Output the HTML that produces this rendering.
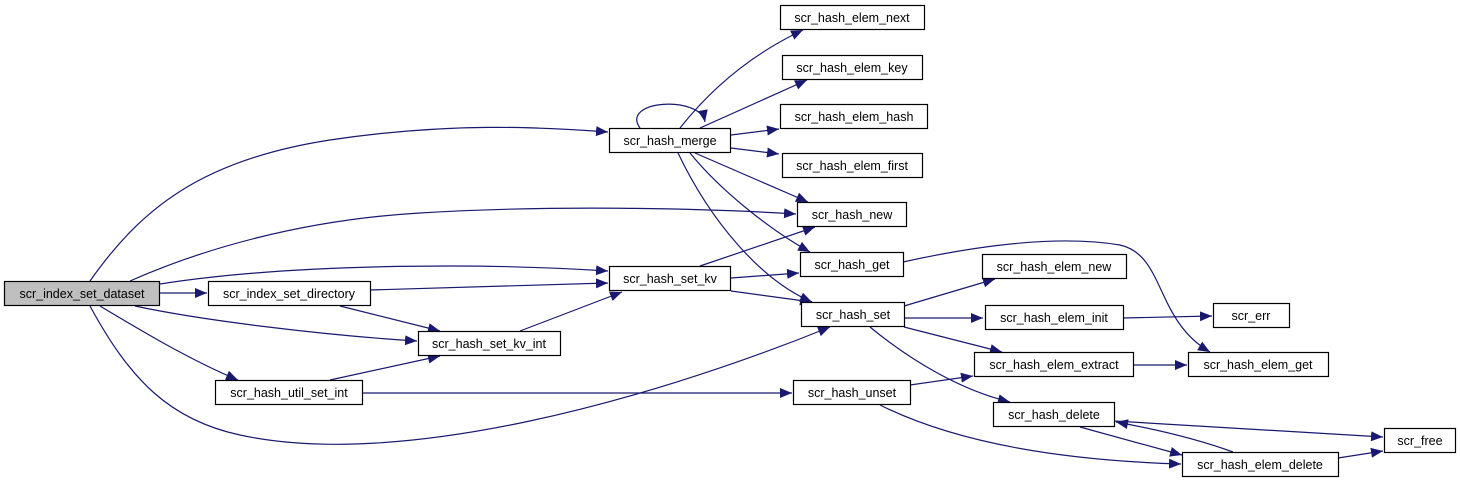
<!DOCTYPE html>
<html><head><meta charset="utf-8"><style>
html,body{margin:0;padding:0;background:#fff;width:1460px;height:484px;overflow:hidden}
text{font-family:"Liberation Sans",sans-serif;font-size:12.5px;fill:#000}
</style></head><body>
<svg width="1460" height="484" xmlns="http://www.w3.org/2000/svg">
<defs><marker id="a" markerUnits="userSpaceOnUse" markerWidth="14" markerHeight="12" refX="12" refY="5" orient="auto"><path d="M0,0 L12,5 L0,10 z" fill="#191970"/></marker></defs>
<g fill="none" stroke="#191970" stroke-width="1.2" marker-end="url(#a)">
<path d="M160,293 L207,293"/>
<path d="M90,281 C140,210 200,160 330,140 C450,122 540,127 608,132"/>
<path d="M130,281 C200,250 300,220 420,213 C550,205 700,208 796,214"/>
<path d="M160,284 C250,270 350,266 450,266 C510,266 560,268 608,271"/>
<path d="M135,306 C200,320 320,335 417,341"/>
<path d="M100,306 C140,330 190,360 238,380"/>
<path d="M90,306 C130,380 170,420 240,435 C400,470 650,400 830,327"/>
<path d="M370,290 L608,283"/>
<path d="M340,306 L440,331"/>
<path d="M330,380 L440,356"/>
<path d="M362,393 L792,393"/>
<path d="M520,331 L622,292"/>
<path d="M700,266 L815,227"/>
<path d="M731,278 L799,273"/>
<path d="M731,291 L812,302"/>
<path d="M640,128 C620,100 700,95 705,122"/>
<path d="M680,128 C710,90 750,55 803,30"/>
<path d="M700,128 L807,80"/>
<path d="M731,135 L779,129"/>
<path d="M731,148 L779,154"/>
<path d="M695,153 L808,202"/>
<path d="M690,153 C720,190 770,230 810,252"/>
<path d="M678,153 C710,220 760,280 812,302"/>
<path d="M903,262 C980,245 1060,235 1120,245 C1165,255 1155,320 1210,352"/>
<path d="M904,306 L995,279"/>
<path d="M904,318 L983,318"/>
<path d="M904,327 L1002,352"/>
<path d="M870,327 C910,360 960,390 1010,402"/>
<path d="M910,385 L973,376"/>
<path d="M880,405 C950,440 1050,460 1181,464"/>
<path d="M1123,318 L1212,316"/>
<path d="M1133,365 L1187,365"/>
<path d="M1114,421 L1383,437"/>
<path d="M1080,427 L1182,455"/>
<path d="M1233,452 C1200,440 1160,430 1116,422"/>
<path d="M1338,458 L1383,451"/>
</g>
<g stroke="#000" stroke-width="1.2" fill="#fff">
<rect x="4.5" y="281.5" width="155" height="24" fill="#bfbfbf"/>
<rect x="208.5" y="281.5" width="162" height="24"/>
<rect x="418.5" y="331.5" width="142" height="24"/>
<rect x="215.5" y="380.5" width="147" height="24"/>
<rect x="609.5" y="128.5" width="121" height="24"/>
<rect x="609.5" y="266.5" width="121" height="24"/>
<rect x="780.5" y="5.5" width="144" height="24"/>
<rect x="782.5" y="55.5" width="140" height="24"/>
<rect x="780.5" y="104.5" width="147" height="24"/>
<rect x="782.5" y="153.5" width="140" height="24"/>
<rect x="797.5" y="202.5" width="109" height="24"/>
<rect x="800.5" y="252.5" width="103" height="24"/>
<rect x="801.5" y="302.5" width="103" height="24"/>
<rect x="793.5" y="380.5" width="117" height="24"/>
<rect x="982.5" y="254.5" width="144" height="24"/>
<rect x="985.5" y="305.5" width="138" height="24"/>
<rect x="974.5" y="352.5" width="159" height="24"/>
<rect x="993.5" y="402.5" width="121" height="24"/>
<rect x="1213.5" y="303.5" width="76" height="24"/>
<rect x="1188.5" y="352.5" width="140" height="24"/>
<rect x="1182.5" y="452.5" width="156" height="24"/>
<rect x="1384.5" y="428.5" width="71" height="24"/>
</g>
<g text-anchor="middle">
<text x="82" y="298">scr_index_set_dataset</text>
<text x="289" y="298">scr_index_set_directory</text>
<text x="489" y="348">scr_hash_set_kv_int</text>
<text x="289" y="397">scr_hash_util_set_int</text>
<text x="670" y="145">scr_hash_merge</text>
<text x="670" y="283">scr_hash_set_kv</text>
<text x="852" y="22">scr_hash_elem_next</text>
<text x="852" y="72">scr_hash_elem_key</text>
<text x="854" y="121">scr_hash_elem_hash</text>
<text x="852" y="170">scr_hash_elem_first</text>
<text x="852" y="219">scr_hash_new</text>
<text x="852" y="269">scr_hash_get</text>
<text x="853" y="319">scr_hash_set</text>
<text x="852" y="397">scr_hash_unset</text>
<text x="1054" y="271">scr_hash_elem_new</text>
<text x="1054" y="322">scr_hash_elem_init</text>
<text x="1054" y="369">scr_hash_elem_extract</text>
<text x="1054" y="419">scr_hash_delete</text>
<text x="1251" y="320">scr_err</text>
<text x="1258" y="369">scr_hash_elem_get</text>
<text x="1260" y="469">scr_hash_elem_delete</text>
<text x="1420" y="445">scr_free</text>
</g>
</svg>
</body></html>
